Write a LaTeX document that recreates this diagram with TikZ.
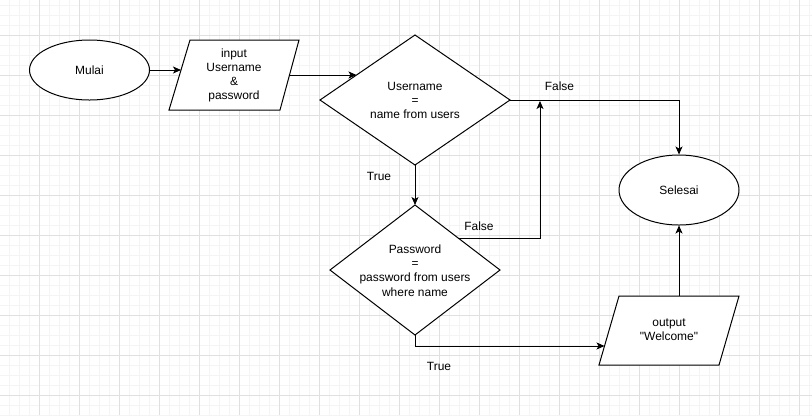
\documentclass[tikz,border=0pt]{standalone}
\usepackage{fontspec}
\setmainfont{Liberation Sans}
\usetikzlibrary{shapes.geometric,arrows.meta}
\definecolor{gridmajorc}{HTML}{E0E0E0}
\definecolor{gridminorc}{HTML}{F4F4F4}
\newcommand\straightdq{\XeTeXglyph\XeTeXcharglyph34\relax}
\tikzset{
  gridminor/.style={draw=gridminorc,line width=0.8bp},
  gridmajor/.style={draw=gridmajorc,line width=1bp},
  shapeline/.style={draw=black,line width=1bp,fill=white},
  txt/.style={font=\fontsize{12}{14.2}\selectfont,align=center,text=black,inner sep=0pt},
  term/.style={shapeline,ellipse,minimum width=120bp,inner sep=0pt,txt},
  flow/.style={draw=black,line width=1bp,-{Stealth[length=8bp,width=7bp,inset=2bp]}},
  lbl/.style={txt,anchor=center}
}
\begin{document}
\begin{tikzpicture}[x=1bp,y=-1bp]
\useasboundingbox (0,0) rectangle (812,415);
\fill[white] (0,0) rectangle (812,415);
% grid
\foreach \i in {-1,...,80} \draw[gridminor] (\i*10+9.5,0) -- (\i*10+9.5,415);
\foreach \j in {0,...,41} \draw[gridminor] (0,\j*10+5) -- (812,\j*10+5);
\foreach \i in {0,...,19} \draw[gridmajor] (\i*40+39.5,0) -- (\i*40+39.5,415);
\foreach \j in {0,...,9} \draw[gridmajor] (0,\j*40+35) -- (812,\j*40+35);

% shapes
\node[term,minimum height=60bp] (start) at (89.5,70) {Mulai};

\draw[shapeline] (190,40) -- (299,40) -- (280,110) -- (169,110) -- cycle;
\node[txt] (in) at (234,75.5) {input\\Username\\\&\\password};

\coordinate (d1n) at (415,35);  \coordinate (d1e) at (510,100);
\coordinate (d1s) at (415,165); \coordinate (d1w) at (320,100);
\draw[shapeline] (d1n) -- (d1e) -- (d1s) -- (d1w) -- cycle;
\node[txt] (d1) at (415,100.5) {Username\\=\\name from users};

\coordinate (d2n) at (415,205); \coordinate (d2e) at (500,270);
\coordinate (d2s) at (415,335); \coordinate (d2w) at (330,270);
\draw[shapeline] (d2n) -- (d2e) -- (d2s) -- (d2w) -- cycle;
\node[txt] (d2) at (415,270.5) {Password\\=\\password from users\\where name};

\node[term,minimum height=70bp] (end) at (679,190) {Selesai};

\draw[shapeline] (619,296) -- (739,296) -- (719,365) -- (599,365) -- cycle;
\node[txt] (out) at (669,330) {output\\\straightdq Welcome\straightdq};

% connector end points on slanted edges
\coordinate (inL) at (181,70);
\coordinate (inR) at (288.5,75);
\coordinate (d1in) at (356.5,75);
\coordinate (d2f) at (458,238);
\coordinate (merge) at (540,101);
\coordinate (outL) at (604.5,346);
\coordinate (outT) at (679,296);

% connectors
\draw[flow] (start.east) -- (inL);
\draw[flow] (inR) -- (d1in);
\draw[flow] (d1e) -| (end.north);
\draw[flow] (d1s) -- (d2n);
\draw[flow] (d2f) -| (merge);
\draw[flow] (d2s) |- (outL);
\draw[flow] (outT) -- (end.south);

% labels
\node[lbl] (lf1) at (559.5,86) {False};
\node[lbl] (lt1) at (379,176) {True};
\node[lbl] (lf2) at (479,226) {False};
\node[lbl] (lt2) at (439,366) {True};
\end{tikzpicture}
\end{document}
